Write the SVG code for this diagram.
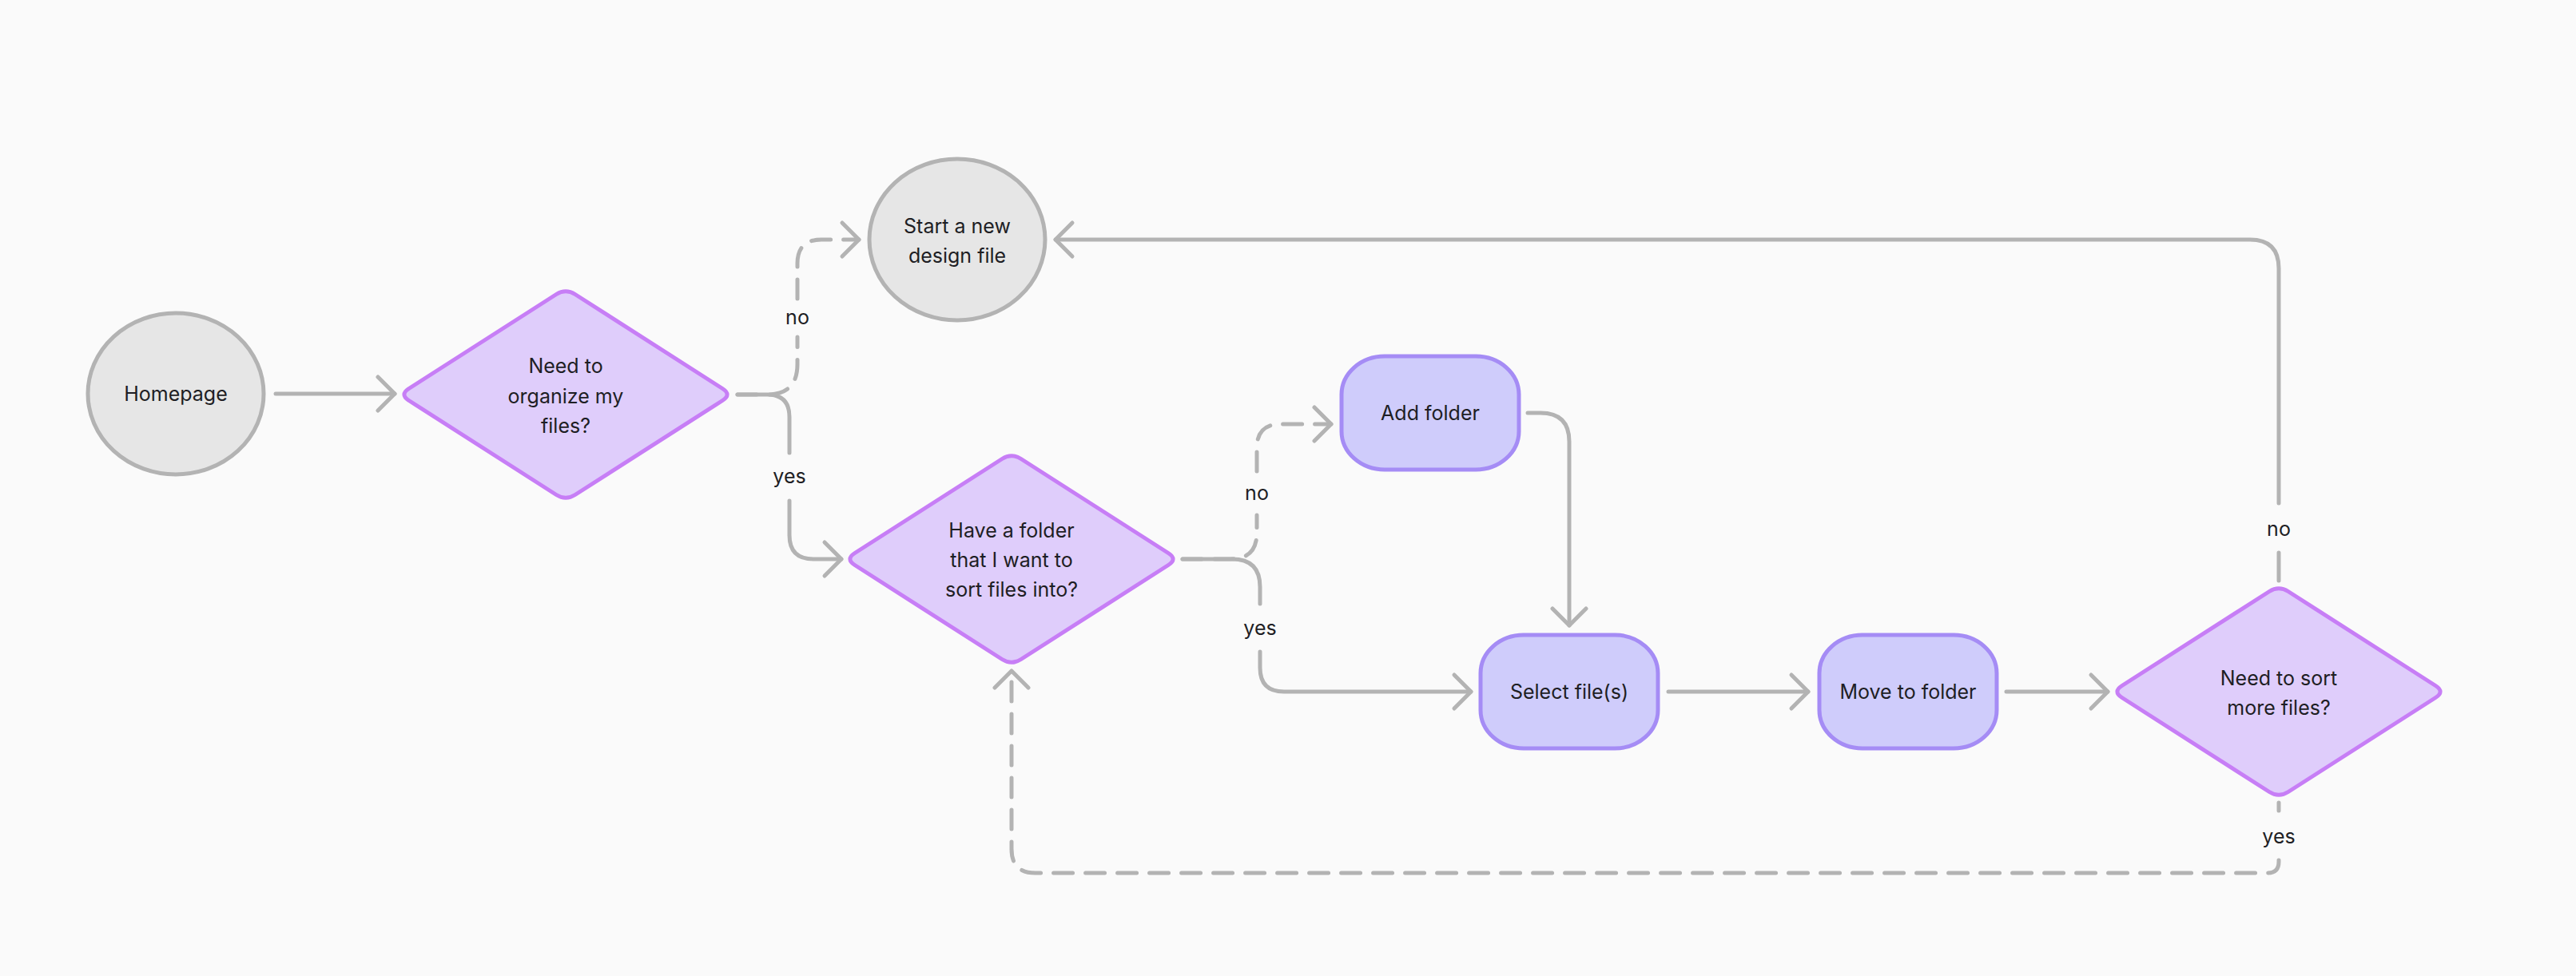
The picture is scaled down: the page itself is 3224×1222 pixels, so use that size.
<svg xmlns="http://www.w3.org/2000/svg" xmlns:xlink="http://www.w3.org/1999/xlink" width="3224" height="1222" viewBox="0 0 3224 1222">
<style>
.term{fill:#E6E6E6;stroke:#B3B3B3;stroke-width:5}
.dec{fill:#DFCDFB;stroke:#C77EF6;stroke-width:5;stroke-linejoin:round}
.proc{fill:#CFCCFB;stroke:#A58CF5;stroke-width:5}
.t{font-family:Inter,"Liberation Sans",sans-serif;font-size:25px;fill:#1E1E24;text-anchor:middle;dominant-baseline:central}
.c{fill:none;stroke:#B3B3B3;stroke-width:5;stroke-linecap:round;stroke-linejoin:round}
.d{stroke-dasharray:24 16}
</style>
<defs>
<marker id="ah" markerUnits="userSpaceOnUse" viewBox="-30 -30 40 60" refX="0" refY="0" markerWidth="40" markerHeight="60" orient="auto" overflow="visible">
<path d="M-21 -21 L0 0 L-21 21" fill="none" stroke="#B3B3B3" stroke-width="5" stroke-linecap="round" stroke-linejoin="round"/>
</marker>
<path id="dia" d="M-11.8 -125.5 Q0 -133 11.8 -125.5 L196.2 -7.5 Q208 0 196.2 7.5 L11.8 125.5 Q0 133 -11.8 125.5 L-196.2 7.5 Q-208 0 -196.2 -7.5 Z"/>
</defs>
<rect x="0" y="0" width="3224" height="1222" fill="#FAFAFA"/>

<g id="connectors">
<path class="c" d="M345 493 H494" marker-end="url(#ah)"/>
<path class="c" d="M923 494 H960 Q988 494 988 522 V567"/>
<path class="c" d="M988 627 V670 Q988 700 1018 700 H1053" marker-end="url(#ah)"/>
<path class="c d" d="M923 494 H960 Q998 494 998 456 V422"/>
<path class="c d" d="M998 374 V330 Q998 300 1028 300 H1075" marker-end="url(#ah)"/>
<path class="c" d="M1480 700 H1542 Q1577 700 1577 735 V756"/>
<path class="c" d="M1577 816 V836 Q1577 866 1607 866 H1841" marker-end="url(#ah)"/>
<path class="c d" d="M1480 700 H1540 Q1573 700 1573 667 V645"/>
<path class="c d" d="M1573 590 V561 Q1573 531 1603 531 H1666" marker-end="url(#ah)"/>
<path class="c" d="M1912 517 H1928 Q1964 517 1964 553 V783" marker-end="url(#ah)"/>
<path class="c" d="M2088 866 H2263" marker-end="url(#ah)"/>
<path class="c" d="M2511 866 H2638" marker-end="url(#ah)"/>
<path class="c" d="M2852 727 V692"/>
<path class="c" d="M2852 630 V336 Q2852 300 2816 300 H1321" marker-end="url(#ah)"/>
<path class="c" d="M2852 1005 V1015"/>
<path class="c d" d="M2852 1077 V1079 Q2852 1093 2838 1093 H1296 Q1266 1093 1266 1063 V840" marker-end="url(#ah)"/>
<text class="t" x="998" y="397">no</text>
<text class="t" x="988" y="596">yes</text>
<text class="t" x="1573" y="617">no</text>
<text class="t" x="1577" y="786">yes</text>
<text class="t" x="2852" y="662">no</text>
<text class="t" x="2852" y="1047">yes</text>
</g>

<g id="homepage">
<ellipse class="term" cx="220" cy="493" rx="110" ry="101"/>
<text class="t" x="220" y="493">Homepage</text>
</g>
<g id="start-new-design-file">
<ellipse class="term" cx="1198" cy="300" rx="110" ry="101"/>
<text class="t" x="1198" y="283">Start a new</text>
<text class="t" x="1198" y="320">design file</text>
</g>
<g id="need-to-organize">
<use xlink:href="#dia" class="dec" x="708" y="494"/>
<text class="t" x="708" y="458">Need to</text>
<text class="t" x="708" y="496">organize my</text>
<text class="t" x="708" y="533">files?</text>
</g>
<g id="have-a-folder">
<use xlink:href="#dia" class="dec" x="1266" y="700"/>
<text class="t" x="1266" y="664">Have a folder</text>
<text class="t" x="1266" y="701">that I want to</text>
<text class="t" x="1266" y="738">sort files into?</text>
</g>
<g id="add-folder">
<rect class="proc" x="1679" y="446" width="222" height="142" rx="54" ry="48"/>
<text class="t" x="1790" y="517">Add folder</text>
</g>
<g id="select-files">
<rect class="proc" x="1853" y="795" width="222" height="142" rx="54" ry="48"/>
<text class="t" x="1964" y="866">Select file(s)</text>
</g>
<g id="move-to-folder">
<rect class="proc" x="2277" y="795" width="222" height="142" rx="54" ry="48"/>
<text class="t" x="2388" y="866">Move to folder</text>
</g>
<g id="need-to-sort-more">
<use xlink:href="#dia" class="dec" x="2852" y="866"/>
<text class="t" x="2852" y="849">Need to sort</text>
<text class="t" x="2852" y="886">more files?</text>
</g>
</svg>
